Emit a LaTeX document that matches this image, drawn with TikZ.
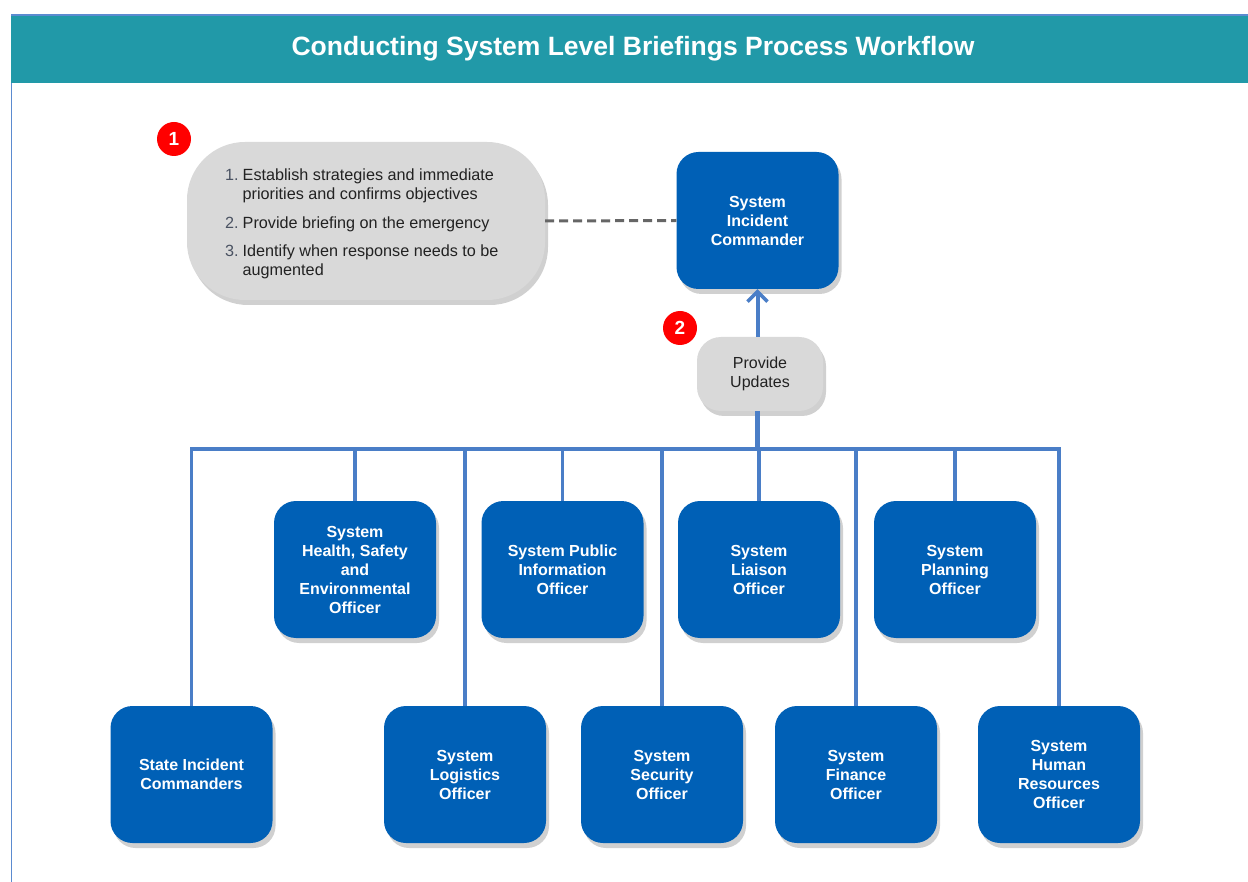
\documentclass[tikz,border=0pt]{standalone}
\usepackage{fontspec}
\setmainfont{Liberation Sans}
\usetikzlibrary{shadows,arrows.meta}
\definecolor{teal}{HTML}{2199A8}
\definecolor{boxblue}{HTML}{0060B6}
\definecolor{lineblue}{HTML}{4A7EC7}
\definecolor{notegray}{HTML}{D9D9D9}
\definecolor{dashgray}{HTML}{666666}
\definecolor{numgray}{HTML}{4A5262}
\definecolor{framebl}{HTML}{5B8BD0}
\definecolor{textdark}{HTML}{222222}
\tikzset{
  x=1pt, y=-1pt,
  softshadow/.style={drop shadow={shadow xshift=3pt, shadow yshift=-5pt, opacity=0.3, fill=black!60}},
  bluebox/.style={rectangle, rounded corners=22pt, fill=boxblue, minimum width=162pt, minimum height=137pt,
    inner sep=0pt, text=white, align=center, font=\fontsize{16}{19}\selectfont\bfseries, softshadow},
  graybox/.style={rectangle, fill=notegray, inner sep=0pt, text=textdark, align=center, softshadow},
  badge/.style={circle, fill=red, minimum size=34pt, inner sep=0pt, text=white, font=\fontsize{19}{19}\selectfont\bfseries},
  conn/.style={draw=lineblue, line width=3.5pt},
}
\begin{document}
\begin{tikzpicture}
\useasboundingbox (0,0) rectangle (1248,882);
\fill[white] (0,0) rectangle (1248,882);
% frame and header
\draw[framebl, line width=1pt] (11,15) -- (11,882);
\fill[teal] (11,15) rectangle (1248,83);
\draw[framebl, line width=1.2pt] (11,15) -- (1248,15);
\node[text=white, font=\fontsize{26.5}{30}\selectfont\bfseries] (title) at (633,49) {Conducting System Level Briefings Process Workflow};

% note box
\node[graybox, rounded corners=58pt, minimum width=358pt, minimum height=158pt] (note) at (366,221) {};
\node[anchor=west, inner sep=0pt, text=textdark, font=\fontsize{16.2}{19}\selectfont] (notetext) at (225,224) {%
\begin{tabular}{@{}l@{\hspace{4pt}}l@{}}
\textcolor{numgray}{1.} & Establish strategies and immediate\\
 & priorities and confirms objectives\\[10pt]
\textcolor{numgray}{2.} & Provide briefing on the emergency\\[9pt]
\textcolor{numgray}{3.} & Identify when response needs to be\\
 & augmented
\end{tabular}};
\node[badge] (b1) at (174,139) {1};

% commander
\node[bluebox] (sic) at (757.5,220.5) {System\\Incident\\Commander};
\draw[dashgray, line width=3pt, dash pattern=on 9pt off 5pt] (note.east) -- (sic.west);

% provide updates
\node[graybox, rounded corners=24pt, minimum width=126pt, minimum height=74pt, font=\fontsize{16}{19}\selectfont] (upd) at (760,374) {Provide\\Updates};
\node[badge] (b2) at (680,328) {2};
\draw[conn, line width=4pt, -{Straight Barb[length=10pt,width=20pt,line width=3.5pt]}] (upd.north -| sic.south) -- (sic.south);

% boxes
\node[bluebox] (hse) at (355,569.5) {System\\Health, Safety\\and\\Environmental\\Officer};
\node[bluebox] (pio) at (562.5,569.5) {System Public\\Information\\Officer};
\node[bluebox] (lia) at (759,569.5) {System\\Liaison\\Officer};
\node[bluebox] (pla) at (955,569.5) {System\\Planning\\Officer};
\node[bluebox] (sta) at (191.5,774.5) {State Incident\\Commanders};
\node[bluebox] (log) at (465,774.5) {System\\Logistics\\Officer};
\node[bluebox] (sec) at (662,774.5) {System\\Security\\Officer};
\node[bluebox] (fin) at (856,774.5) {System\\Finance\\Officer};
\node[bluebox] (hr) at (1059,774.5) {System\\Human\\Resources\\Officer};

% bus
\coordinate (bus) at (757.5,449);
\coordinate (busL) at (192,449);
\coordinate (busR) at (1059,449);
\draw[conn, line width=4.5pt] (upd.south -| sic.south) -- (bus);
\draw[conn, line cap=rect] (busL) -- (busR);
\foreach \n in {hse,pio,lia,pla,sta,log,sec,fin,hr}{
  \draw[conn] (\n.north |- bus) -- (\n.north);
}
\end{tikzpicture}
\end{document}
